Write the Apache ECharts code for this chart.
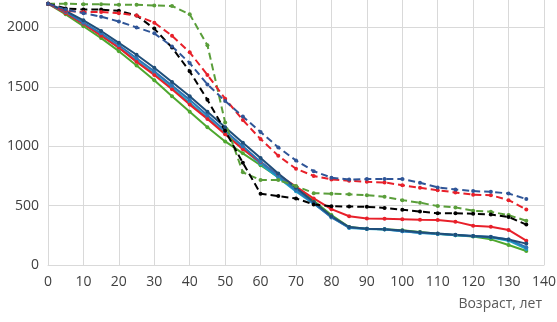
<!DOCTYPE html>
<html>
<head>
<meta charset="utf-8">
<script src="https://cdn.jsdelivr.net/npm/echarts@6/dist/echarts.min.js"></script>
<style>
  html, body { margin: 0; padding: 0; background: #fff; }
  #grafik { width: 557px; height: 322px; }
</style>
</head>
<body>
<div id="grafik"></div>
<script>
// возраст, лет
var ages = [0, 5, 10, 15, 20, 25, 30, 35, 40, 45, 50, 55, 60, 65, 70, 75, 80, 85, 90, 95, 100, 105, 110, 115, 120, 125, 130, 135];

// сплошные линии
var navySolid = [2200, 2140, 2060, 1970, 1870, 1770, 1660, 1540, 1420, 1290, 1160, 1030, 900, 770, 650, 530, 410, 320, 305, 300, 290, 275, 265, 255, 245, 235, 215, 180];
var blueSolid = [2200, 2130, 2040, 1950, 1850, 1740, 1630, 1510, 1390, 1260, 1130, 1000, 870, 750, 630, 520, 400, 315, 305, 300, 285, 272, 262, 252, 245, 238, 215, 150];
var cyanSolid = [2200, 2125, 2030, 1935, 1830, 1720, 1610, 1490, 1365, 1240, 1110, 980, 850, 735, 620, 515, 405, 312, 302, 298, 284, 270, 260, 250, 242, 232, 205, 135];
var redSolid = [2200, 2120, 2030, 1930, 1830, 1710, 1600, 1480, 1350, 1230, 1100, 975, 865, 760, 660, 560, 470, 410, 392, 390, 385, 380, 378, 365, 330, 322, 295, 205];
var greenSolid = [2200, 2110, 2010, 1910, 1800, 1680, 1555, 1420, 1290, 1160, 1040, 940, 840, 740, 650, 540, 420, 320, 305, 300, 292, 278, 264, 250, 240, 216, 168, 118];

// пунктирные линии
var greenDashed = [2200, 2200, 2195, 2195, 2190, 2190, 2185, 2180, 2110, 1850, 1200, 780, 715, 715, 665, 605, 600, 595, 588, 574, 546, 524, 496, 485, 457, 448, 420, 372];
var redDashed = [2200, 2140, 2130, 2130, 2120, 2100, 2040, 1930, 1790, 1600, 1400, 1220, 1060, 920, 810, 750, 720, 710, 700, 695, 672, 650, 630, 610, 592, 588, 546, 468];
var blackDashed = [2200, 2160, 2150, 2150, 2140, 2100, 1990, 1830, 1630, 1390, 1130, 860, 600, 580, 560, 510, 495, 492, 490, 480, 465, 450, 435, 435, 432, 425, 405, 340];
var blueDashed = [2200, 2150, 2120, 2090, 2050, 2000, 1950, 1840, 1700, 1520, 1380, 1250, 1120, 990, 880, 790, 735, 720, 723, 723, 723, 692, 653, 636, 622, 616, 602, 555];

function pairs(vals) {
  return ages.map(function (a, i) { return [a, vals[i]]; });
}

function line(vals, color, dashed) {
  return {
    type: 'line',
    data: pairs(vals),
    symbol: 'circle',
    symbolSize: 4,
    showSymbol: true,
    itemStyle: { color: color },
    lineStyle: { color: color, width: 2, type: dashed ? [7, 4] : 'solid' },
    animation: false
  };
}

var grafik = echarts.init(document.getElementById('grafik'));

var option = {
  backgroundColor: '#fff',
  textStyle: { fontFamily: 'Open Sans' },
  title: {
    text: 'Возраст, лет',
    right: 10,
    bottom: 6,
    textStyle: { fontFamily: 'Open Sans', fontSize: 14, fontWeight: 'normal', color: '#595959' }
  },
  grid: { left: 48, right: 13, top: -32, bottom: 57, outerBoundsMode: 'none' },
  xAxis: {
    type: 'value',
    min: 0,
    max: 140,
    interval: 10,
    axisLine: { show: true, lineStyle: { color: '#d9d9d9' } },
    axisTick: { show: false },
    axisLabel: { color: '#404040', fontSize: 14, margin: 10 },
    splitLine: { show: true, lineStyle: { color: '#d9d9d9', width: 1 } }
  },
  yAxis: {
    type: 'value',
    min: 0,
    max: 2500,
    interval: 500,
    axisLine: { show: true, lineStyle: { color: '#d9d9d9' } },
    axisTick: { show: false },
    axisLabel: {
      color: '#404040',
      fontSize: 14,
      margin: 9,
      formatter: function (v) { return String(v); }
    },
    splitLine: { show: true, lineStyle: { color: '#d9d9d9', width: 1 } }
  },
  series: [
    line(greenSolid, '#4ea72e', false),
    line(cyanSolid, '#1b9fc6', false),
    line(redSolid, '#e8202a', false),
    line(blueSolid, '#2e75b6', false),
    line(navySolid, '#1f4e79', false),
    line(greenDashed, '#5a9e3a', true),
    line(blackDashed, '#000000', true),
    line(redDashed, '#e8202a', true),
    line(blueDashed, '#2f5597', true)
  ]
};
grafik.setOption(option);
</script>
</body>
</html>
